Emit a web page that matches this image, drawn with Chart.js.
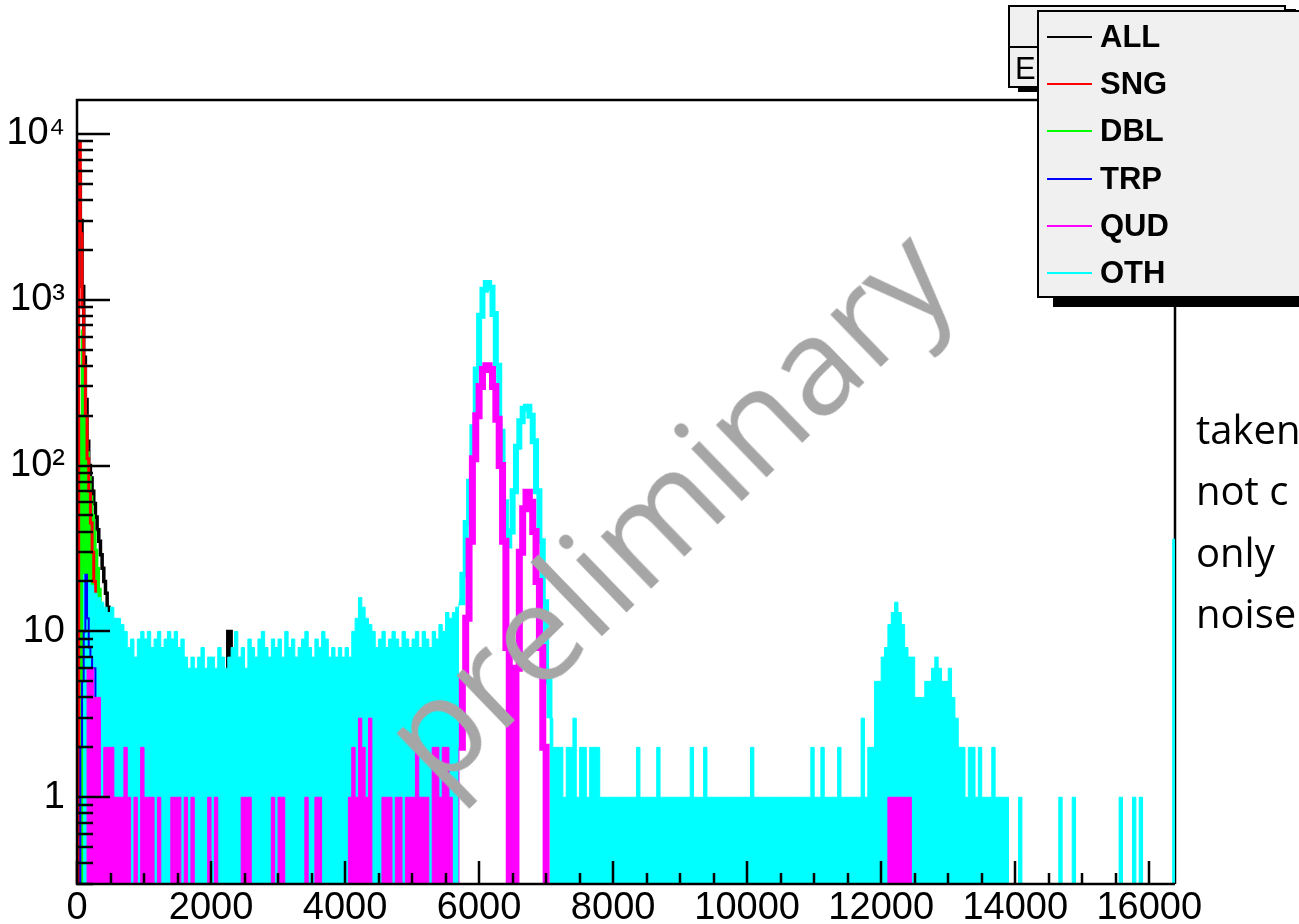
<!DOCTYPE html>
<html>
<head>
<meta charset="utf-8">
<title>Energy spectrum by hit multiplicity</title>
<script src="https://cdn.jsdelivr.net/npm/chart.js@4.4.0/dist/chart.umd.min.js"></script>
<style>
  body {
    margin: 0;
    width: 1299px;
    height: 924px;
    overflow: hidden;
    position: relative;
    background: #fff;
    font-family: 'Liberation Sans', Arial, sans-serif;
  }
  #chart { position: absolute; left: 0; top: 0; }
  .box {
    position: absolute;
    box-sizing: border-box;
    border: 2px solid #000;
    background: #f0f0f0;
  }
  #statbox { left: 1008px; top: 5px; width: 278px; height: 83px; box-shadow: 10px 4px 0 #000; }
  #statbox .rule { position: absolute; left: 0; right: 0; top: 39px; border-top: 2px solid #000; }
  #statbox span { position: absolute; left: 5px; top: 46px; font-size: 31px; line-height: 31px; }
  #legend { left: 1037px; top: 10px; width: 264px; height: 288px; box-shadow: 16px 9px 0 #000; }
  .entry { position: absolute; left: 0; height: 30px; width: 250px; }
  .entry i { position: absolute; left: 8px; top: 14px; width: 45px; height: 2px; }
  .entry b { position: absolute; left: 61px; top: 0; font-size: 31px; line-height: 30px; }
  #note {
    position: absolute;
    left: 1196px;
    top: 398px;
    font-family: 'Open Sans', 'Noto Sans', sans-serif;
    font-size: 40px;
    line-height: 61.3px;
    white-space: nowrap;
    color: #000;
  }
  #watermark {
    position: absolute;
    left: 664px;
    top: 504px;
    transform: translate(-50%, -50%) rotate(-44deg);
    font-family: 'Open Sans', 'Noto Sans', sans-serif;
    font-size: 136px;
    line-height: 1;
    color: #a6a6a6;
    white-space: nowrap;
    pointer-events: none;
  }
</style>
</head>
<body>
<canvas id="chart" width="1299" height="924"></canvas>
<div class="box" id="statbox"><div class="rule"></div><span>E</span></div>
<div class="box" id="legend"></div>
<div id="note">taken<br>not c<br>only<br>noise</div>
<div id="watermark">preliminary</div>

<script>
// bins of 50 channels, 0 .. 16400
const othBinWidth = 50;
const othCounts = [
  0,0,22,20,19,17,16,15,14,13,14,12,12,11,10,8,9,7,9,10,
  9,10,8,9,10,8,9,10,9,10,8,9,7,6,7,6,7,8,6,7,
  7,6,8,7,6,7,8,10,7,8,6,9,8,7,9,10,8,7,9,8,
  9,7,10,8,9,7,8,9,10,8,7,9,8,10,9,7,8,7,8,7,
  8,7,10,12,16,14,12,11,10,8,9,10,8,9,10,9,8,10,9,8,
  9,10,8,10,9,8,10,9,11,10,13,12,13,14,15,22,45,80,170,380,
  800,1150,1260,1180,820,400,160,60,33,40,70,130,185,220,226,200,140,70,35,15,
  5,3,2,2,2,1,2,2,3,1,2,2,1,2,2,2,1,1,1,1,
  1,1,1,1,1,1,1,2,1,1,1,1,1,2,1,1,1,1,1,1,
  1,1,1,2,1,1,1,2,1,1,1,1,1,1,1,1,1,1,1,1,
  1,2,1,1,1,1,1,1,1,1,1,1,1,1,1,1,1,1,1,2,
  1,1,2,1,1,1,1,2,1,1,1,1,1,1,3,1,2,2,5,5,
  7,8,11,13,15,13,11,8,7,7,4,4,4,5,5,6,7,6,5,5,
  6,4,3,2,2,1,2,2,1,2,1,1,1,2,1,1,1,1,0,0,
  0,1,0,0,0,0,0,0,0,0,0,0,0,1,0,0,0,1,0,0,
  0,0,0,0,0,0,0,0,0,0,0,1,0,0,0,1,0,1,0,0,
  0,0,0,0,0,0,0,36
];
const qudCounts = [
  0,0,0,6,6,4,4,1,2,2,2,1,1,1,2,1,0,1,0,2,
  1,1,1,0,1,0,0,0,1,1,1,0,1,0,1,0,0,0,0,1,
  0,1,0,0,0,0,0,0,0,1,1,1,0,0,0,0,0,0,1,0,
  1,1,0,0,0,0,0,0,1,0,0,1,1,0,0,0,0,0,0,0,
  0,1,2,1,3,2,1,3,0,0,0,1,1,1,0,1,1,0,1,1,
  1,2,1,1,1,0,2,2,1,2,2,1,0,0,2,5,12,35,110,200,
  300,380,400,380,300,190,100,35,8,0,0,6,30,55,69,60,40,20,8,2,
  0,0,0,0,0,0,0,0,0,0,0,0,0,0,0,0,0,0,0,0,
  0,0,0,0,0,0,0,0,0,0,0,0,0,0,0,0,0,0,0,0,
  0,0,0,0,0,0,0,0,0,0,0,0,0,0,0,0,0,0,0,0,
  0,0,0,0,0,0,0,0,0,0,0,0,0,0,0,0,0,0,0,0,
  0,0,0,0,0,0,0,0,0,0,0,0,0,0,0,0,0,0,0,0,
  0,0,1,1,1,1,1,1,1,0,0,0,0,0,0,0,0,0,0,0
];

// low channels, bins of 25
const earlyBinWidth = 25;
const allCounts = [
  9000,6000,3000,1200,450,250,140,100,84,70,59,49,41,35,29,24,20,17,14,12,
  0,0,0,0,0,0,0,0,0,0,0,0,0,0,0,0,0,0,0,0,
  0,0,0,0,0,0,0,0,0,0,0,0,0,0,0,0,0,0,0,0,
  0,0,0,0,0,0,0,0,0,0,0,0,0,0,0,0,0,0,0,0,
  0,0,0,0,0,0,0,0,0,0,10,10
];
const sngCounts = [0,8800,2500,900,400,200,110,70,45,30,20,13,9,6,4,3,2,1];
const dblCounts = [0,0,200,650,400,200,120,85,65,50,40,31,24,18,14,10,7,5,3,2,1];
const trpCounts = [0,0,2,5,10,22,12,8,7,6,6,3,2,1,1];

const xTickValues = [0,2000,4000,6000,8000,10000,12000,14000,16000];
const yTickValues = [1,10,100,1000,10000];
const yTickLabels = ['1','10','10\u00b2','10\u00b3','10\u2074'];

const legendNames = ['ALL','SNG','DBL','TRP','QUD','OTH'];
const legendColors = ['#000000','#ff0000','#00ff00','#0000ff','#ff00ff','#00ffff'];

const zeroLevel = 0.1;   // empty bins go below the frame on the log axis
const peakFrom = 5700;   // peaks are drawn as outlines, not filled
const peakTo = 7050;

function histPoints(counts, width) {
  const pts = [{x: 0, y: zeroLevel}];
  counts.forEach((c, i) => pts.push({x: i * width, y: c > 0 ? c : zeroLevel}));
  pts.push({x: counts.length * width, y: zeroLevel});
  return pts;
}

function inPeak(points, ctx) {
  const x = points[ctx.p0DataIndex].x;
  return x >= peakFrom && x < peakTo;
}

const othPoints = histPoints(othCounts, othBinWidth);
const qudPoints = histPoints(qudCounts, othBinWidth);

// ROOT style frame with ticks inside
const rootFrame = {
  id: 'rootFrame',
  beforeDatasetsDraw(chart) {
    const {ctx, chartArea: a} = chart;
    ctx.save();
    ctx.strokeStyle = '#000';
    ctx.lineWidth = 2.5;
    ctx.beginPath();
    ctx.moveTo(a.right, a.top);
    ctx.lineTo(a.right, a.bottom);
    ctx.stroke();
    ctx.restore();
  },
  afterDatasetsDraw(chart) {
    const {ctx, chartArea: a} = chart;
    const x = chart.scales.x, y = chart.scales.y;
    ctx.save();
    ctx.strokeStyle = '#000';
    ctx.lineWidth = 2.5;
    ctx.beginPath();
    ctx.moveTo(a.right, a.top);
    ctx.lineTo(a.left, a.top);
    ctx.lineTo(a.left, a.bottom);
    ctx.lineTo(a.right, a.bottom);
    ctx.stroke();

    ctx.beginPath();
    for (let k = -1; k <= 4; k++) {
      for (let m = 1; m <= 9; m++) {
        const v = m * Math.pow(10, k);
        if (v < y.min || v > y.max) continue;
        const py = Math.round(y.getPixelForValue(v));
        ctx.moveTo(a.left, py);
        ctx.lineTo(a.left + (m === 1 ? 33 : 16), py);
      }
    }
    for (let v = 0; v <= x.max; v += 500) {
      const px = Math.round(x.getPixelForValue(v));
      ctx.moveTo(px, a.bottom);
      ctx.lineTo(px, a.bottom - (v % 2000 === 0 ? 23 : 11));
    }
    ctx.stroke();
    ctx.restore();
  }
};

Chart.defaults.font.family = "'Liberation Sans', Arial, sans-serif";

const ctx = document.getElementById('chart').getContext('2d');
const chart = new Chart(ctx, {
  type: 'line',
  data: {
    datasets: [
      {
        label: 'ALL',
        data: histPoints(allCounts, earlyBinWidth),
        borderColor: '#000000',
        borderWidth: 3.5,
        stepped: 'before',
        fill: false,
        order: 6
      },
      {
        label: 'DBL',
        data: histPoints(dblCounts, earlyBinWidth),
        borderColor: '#00ff00',
        backgroundColor: '#00ff00',
        borderWidth: 2.5,
        stepped: 'before',
        fill: 'start',
        order: 5
      },
      {
        label: 'SNG',
        data: histPoints(sngCounts, earlyBinWidth),
        borderColor: '#ff0000',
        borderWidth: 3,
        stepped: 'before',
        fill: false,
        order: 4
      },
      {
        label: 'OTH',
        data: othPoints,
        borderColor: '#00ffff',
        backgroundColor: '#00ffff',
        borderWidth: 1,
        stepped: 'before',
        fill: 'start',
        order: 3,
        segment: {
          backgroundColor: c => inPeak(othPoints, c) ? 'rgba(0,0,0,0)' : '#00ffff',
          borderWidth: c => inPeak(othPoints, c) ? 6 : 1
        }
      },
      {
        label: 'TRP',
        data: histPoints(trpCounts, earlyBinWidth),
        borderColor: '#0000ff',
        borderWidth: 2,
        stepped: 'before',
        fill: false,
        order: 2
      },
      {
        label: 'QUD',
        data: qudPoints,
        borderColor: '#ff00ff',
        backgroundColor: '#ff00ff',
        borderWidth: 1,
        stepped: 'before',
        fill: 'start',
        order: 1,
        segment: {
          backgroundColor: c => inPeak(qudPoints, c) ? 'rgba(0,0,0,0)' : '#ff00ff',
          borderWidth: c => inPeak(qudPoints, c) ? 7 : 1
        }
      }
    ]
  },
  options: {
    responsive: false,
    animation: false,
    devicePixelRatio: 1,
    events: [],
    layout: { padding: { top: 100, right: 124, left: 0, bottom: 0 } },
    elements: { point: { radius: 0 }, line: { tension: 0 } },
    plugins: { legend: { display: false }, tooltip: { enabled: false } },
    scales: {
      x: {
        type: 'linear',
        min: 0,
        max: 16384,
        grid: { display: false, drawTicks: false },
        border: { display: false },
        afterBuildTicks: s => { s.ticks = xTickValues.map(v => ({value: v})); },
        afterFit: s => { s.height = 40; },
        ticks: {
          padding: 2,
          color: '#000',
          font: { size: 38 },
          maxRotation: 0,
          autoSkip: false,
          callback: v => String(v)
        }
      },
      y: {
        type: 'logarithmic',
        min: 0.3,
        max: 16000,
        grid: { display: false, drawTicks: false },
        border: { display: false },
        afterBuildTicks: s => { s.ticks = yTickValues.map(v => ({value: v})); },
        afterFit: s => { s.width = 77; },
        ticks: {
          padding: 12,
          color: '#000',
          font: { size: 38 },
          autoSkip: false,
          callback: (v, i) => yTickLabels[i]
        }
      }
    }
  },
  plugins: [rootFrame]
});

// legend box
const legend = document.getElementById('legend');
legendNames.forEach((name, i) => {
  const row = document.createElement('div');
  row.className = 'entry';
  row.style.top = (10 + i * 47.2) + 'px';
  row.innerHTML = `<i style="background:${legendColors[i]}"></i><b>${name}</b>`;
  legend.appendChild(row);
});
</script>
</body>
</html>
